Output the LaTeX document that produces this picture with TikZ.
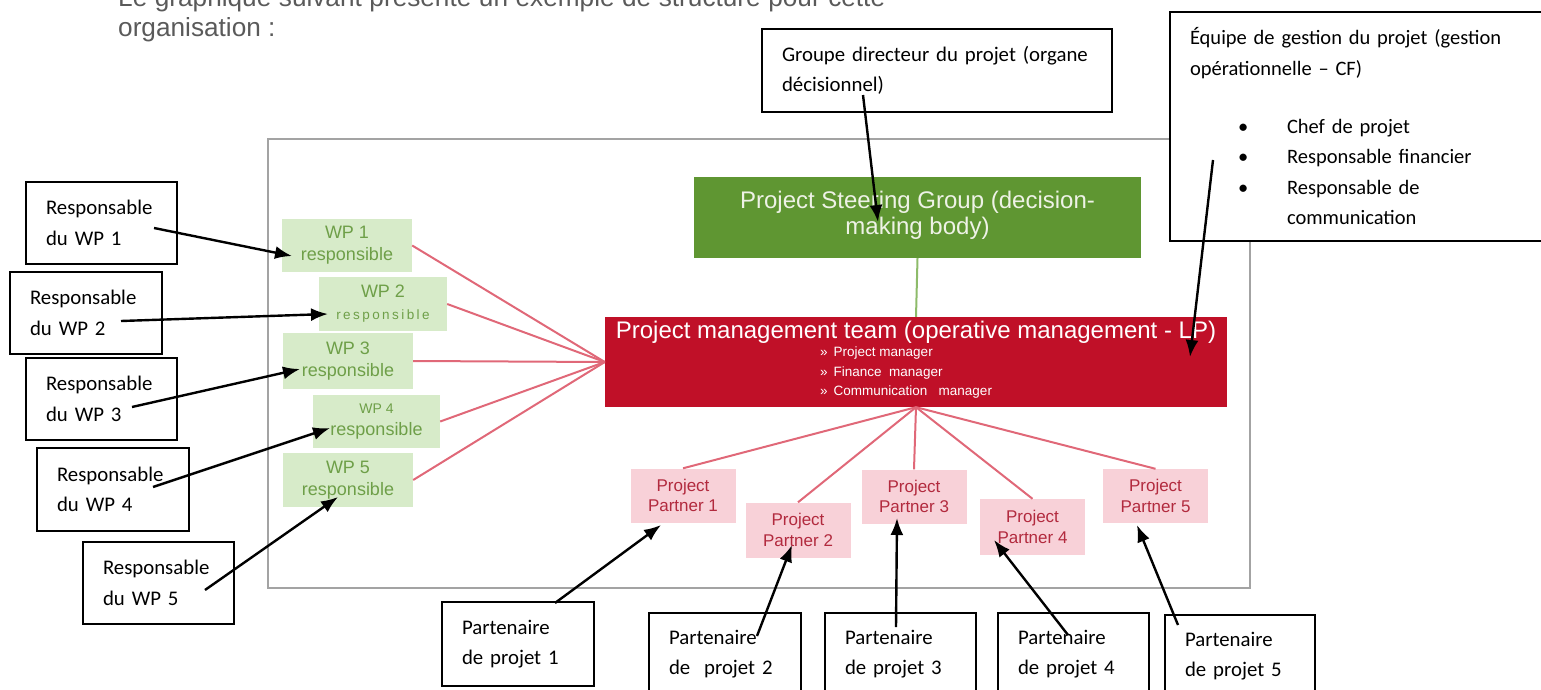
\documentclass[tikz,border=0pt]{standalone}
\usepackage{fontspec}
\setmainfont{Carlito}
\newfontfamily\arialf{Liberation Sans}
\usetikzlibrary{arrows.meta,calc}

\definecolor{framegray}{HTML}{A3A3A3}
\definecolor{psggreen}{HTML}{5F9632}
\definecolor{psgtext}{HTML}{EEF2E6}
\definecolor{pmtred}{HTML}{C01028}
\definecolor{wpfill}{HTML}{D7EBC9}
\definecolor{wptext}{HTML}{6E9F48}
\definecolor{ppfill}{HTML}{F8D1D8}
\definecolor{pptext}{HTML}{B22A3E}
\definecolor{linkred}{HTML}{E06878}
\definecolor{linkgreen}{HTML}{8DBB6A}
\definecolor{introgray}{HTML}{5A5A5A}

\newcommand\callfont{\fontsize{20.8}{30.5}\selectfont}

\begin{document}
\begin{tikzpicture}[x=1pt,y=-1pt,
  callout/.style={draw=black, line width=1.6pt, fill=white, inner xsep=20pt,
    inner ysep=0pt, align=left, font=\callfont},
  wpbox/.style={fill=wpfill, inner sep=0pt, text=wptext, align=center,
    font=\arialf\fontsize{18}{22}\selectfont},
  ppbox/.style={fill=ppfill, inner sep=0pt, text=pptext, align=center,
    minimum width=105pt, minimum height=54pt,
    font=\arialf\fontsize{17}{20.5}\selectfont},
  introtext/.style={anchor=base west, inner sep=0pt, text=introgray,
    font=\arialf\fontsize{26.2}{30}\selectfont},
  chartlabel/.style={anchor=base, inner sep=0pt,
    font=\arialf\fontsize{24}{26}\selectfont},
  redlink/.style={draw=linkred, line width=2pt},
  greenlink/.style={draw=linkgreen, line width=2pt},
  arr/.style={line width=2.4pt, -{Latex[length=17pt,width=13pt]}},
]
\useasboundingbox (0,0) rectangle (1541,690);

% introductory sentence, first line cut by the page top
\node[introtext] (intro1) at (118,7)
  {\makebox[767pt][s]{Le graphique suivant présente un exemple de structure pour cette}};
\node[introtext] (intro2) at (118,37) {organisation :};

% frame of the organisation chart
\node[draw=framegray, line width=2pt, inner sep=0pt,
      minimum width=982pt, minimum height=449pt] (frame) at (759,363.5) {};

% steering group and management team
\node[fill=psggreen, inner sep=0pt, minimum width=447pt, minimum height=81pt]
  (psg) at (917.5,217.5) {};
\node[chartlabel, text=psgtext] (psgline1) at (917.5,208) {Project Steering Group (decision-};
\node[chartlabel, text=psgtext] (psgline2) at (917.5,234) {making body)};
\node[fill=pmtred, inner sep=0pt, minimum width=622pt, minimum height=90pt]
  (pmt) at (916,362) {};
\node[chartlabel, text=white] (pmttitle) at (916,338)
  {Project management team (operative management - LP)};
\node[anchor=north west, inner sep=0pt, text=white, align=left,
      font=\arialf\fontsize{13.5}{19.5}\selectfont] (pmtlist) at (820,347)
  {»\hspace{6pt}Project manager\\
   »\hspace{6pt}Finance\ \ manager\\
   »\hspace{6pt}Communication\ \ \ manager};

% work package leaders
\node[wpbox, minimum width=130pt, minimum height=53pt] (wp1) at (347,245.5) {WP 1\\responsible};
\node[wpbox, minimum width=128pt, minimum height=54pt] (wp2) at (383,304)
  {WP 2\\{\fontsize{13.5}{16}\selectfont\addfontfeatures{LetterSpace=18}responsible}};
\node[wpbox, minimum width=130pt, minimum height=56pt] (wp3) at (348,361) {WP 3\\responsible};
\node[wpbox, minimum width=127pt, minimum height=53pt] (wp4) at (376.5,421.5)
  {{\fontsize{14}{16}\selectfont WP 4}\\responsible};
\node[wpbox, minimum width=130pt, minimum height=54pt] (wp5) at (348,480) {WP 5\\responsible};

% project partners
\node[ppbox] (pp1) at (683,495.5) {Project\\Partner 1};
\node[ppbox, minimum height=55pt] (pp2) at (798,530) {Project\\Partner 2};
\node[ppbox] (pp3) at (914,496.5) {Project\\Partner 3};
\node[ppbox, minimum height=56pt] (pp4) at (1032.5,527) {Project\\Partner 4};
\node[ppbox] (pp5) at (1155.5,496) {Project\\Partner 5};

% links of the chart
\draw[greenlink] (psg.south) -- (pmt.north);
\foreach \w in {wp1,wp2,wp3,wp4,wp5}
  \draw[redlink] (\w.east) -- (pmt.west);
\foreach \p in {pp1,pp2,pp3,pp4,pp5}
  \draw[redlink] (pmt.south) -- (\p.north);

% French callouts
\node[callout, text width=310pt, minimum height=83pt] (grp) at (937,70.5)
  {Groupe directeur du projet (organe\\décisionnel)};
\node[callout, text width=335pt, minimum height=229pt, font=\fontsize{20.5}{30.5}\selectfont]
  (eq) at (1357.5,126.5)
  {Équipe de gestion du projet (gestion\\opérationnelle – CF)\\[27.5pt]
   \hspace*{48pt}\makebox[49pt][l]{•}Chef de projet\\
   \hspace*{48pt}\makebox[49pt][l]{•}Responsable financier\\
   \hspace*{48pt}\makebox[49pt][l]{•}Responsable de\\
   \hspace*{97pt}communication};

\node[callout, text width=111pt, minimum height=82pt] (r1) at (101.5,223) {Responsable\\du WP 1};
\node[callout, text width=112pt, minimum height=82pt] (r2) at (86,313) {Responsable\\du WP 2};
\node[callout, text width=111pt, minimum height=82pt] (r3) at (101.5,399) {Responsable\\du WP 3};
\node[callout, text width=112pt, minimum height=83pt] (r4) at (113,489.5) {Responsable\\du WP 4};
\node[callout, text width=111pt, minimum height=82pt] (r5) at (158.5,583) {Responsable\\du WP 5};

\node[callout, text width=112pt, minimum height=84pt] (p1) at (518,644) {Partenaire\\de projet 1};
\node[callout, text width=112pt, minimum height=82pt] (p2) at (725,654) {Partenaire\\de \ projet 2};
\node[callout, text width=111pt, minimum height=82pt] (p3) at (900.5,654) {Partenaire\\de projet 3};
\node[callout, text width=111pt, minimum height=82pt] (p4) at (1073.5,654) {Partenaire\\de projet 4};
\node[callout, text width=110pt, minimum height=82pt] (p5) at (1240,656) {Partenaire\\de projet 5};

% pointers from the callouts
\draw[arr] ($(grp.center)+(-74,24.5)$) -- ($(psg.center)+(-39.5,4.5)$);
\draw[arr] ($(eq.center)+(-144.5,33.5)$) -- ($(pmt.center)+(274,-5)$);
\draw[arr] ($(r1.center)+(52.5,5)$) -- ($(wp1.center)+(-55,10.5)$);
\draw[arr] ($(r2.center)+(35,8)$) -- ($(wp2.center)+(-55,10)$);
\draw[arr] ($(r3.center)+(30.5,8)$) -- ($(wp3.center)+(-48,8)$);
\draw[arr] ($(r4.center)+(40,-2.5)$) -- ($(wp4.center)+(-46.5,6.5)$);
\draw[arr] ($(r5.center)+(46.5,7)$) -- ($(wp5.center)+(-10,17)$);
\draw[arr] ($(p1.center)+(37,-41)$) -- ($(pp1.center)+(-22,29.5)$);
\draw[arr] ($(p2.center)+(32,-18)$) -- ($(pp2.center)+(-6,15)$);
\draw[arr] ($(p3.center)+(-4.5,-27)$) -- ($(pp3.center)+(-17,21.5)$);
\draw[arr] ($(p4.center)+(-5.5,-19)$) -- ($(pp4.center)+(-38.5,13)$);
\draw[arr] ($(p5.center)+(-62,-31)$) -- ($(pp5.center)+(-18.5,29)$);
\end{tikzpicture}
\end{document}
